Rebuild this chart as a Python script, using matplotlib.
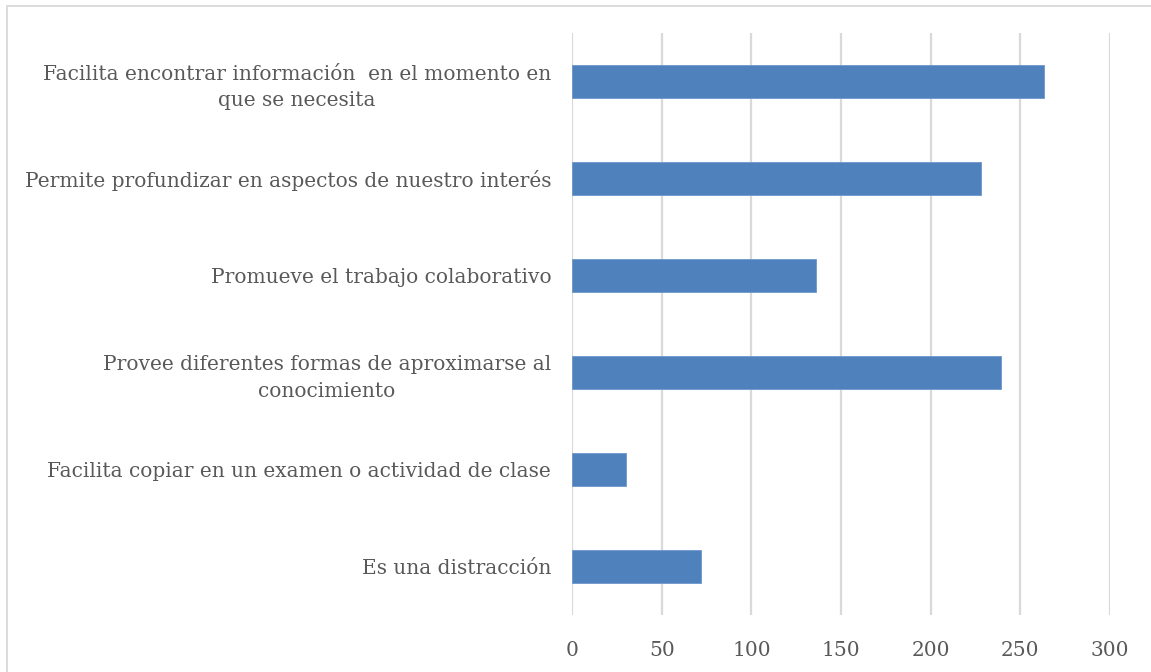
import matplotlib.pyplot as plt
from matplotlib.patches import Rectangle

# datos (de abajo hacia arriba)
categorias = [
    "Es una distracción",
    "Facilita copiar en un examen o actividad de clase",
    "Provee diferentes formas de aproximarse al\nconocimiento",
    "Promueve el trabajo colaborativo",
    "Permite profundizar en aspectos de nuestro interés",
    "Facilita encontrar información  en el momento en\nque se necesita",
]
valores = [72, 30, 239, 136, 228, 263]
ticks_x = [0, 50, 100, 150, 200, 250, 300]

plt.rcParams['font.family'] = ['DejaVu Serif']
gris_texto = '#595959'

fig = plt.figure(figsize=(11.51, 6.72), dpi=100)
fig.patch.set_facecolor('white')
ax = fig.add_axes([572 / 1151, 1 - 615 / 672, (1110 - 572) / 1151, (615 - 33) / 672])

# marco del gráfico
fig.patches.append(Rectangle((6.5 / 1151, -0.1), 1.2, 1 - 5.5 / 672 + 0.1,
                             transform=fig.transFigure, fill=False,
                             edgecolor='#d9d9d9', lw=1.3, zorder=0))

y = range(len(categorias))
ax.barh(y, valores, height=0.35, color='#4f81bd', edgecolor='#6f97cc', lw=0.6, zorder=3)

ax.set_xlim(0, 300)
ax.set_ylim(-0.5, len(categorias) - 0.5)
ax.set_xticks(ticks_x)
ax.set_xticklabels([str(t) for t in ticks_x], fontsize=14.5, color=gris_texto)
ax.set_yticks(list(y))
ax.set_yticklabels(categorias, fontsize=14.5, color=gris_texto,
                   multialignment='center', linespacing=1.5)
ax.tick_params(axis='both', length=0)
ax.tick_params(axis='y', pad=15)
ax.tick_params(axis='x', pad=19)

ax.grid(axis='x', color='#d9d9d9', lw=1.6, zorder=0)
ax.set_axisbelow(True)
for s in ax.spines.values():
    s.set_visible(False)

plt.savefig('out.png', dpi=100)
plt.close()
